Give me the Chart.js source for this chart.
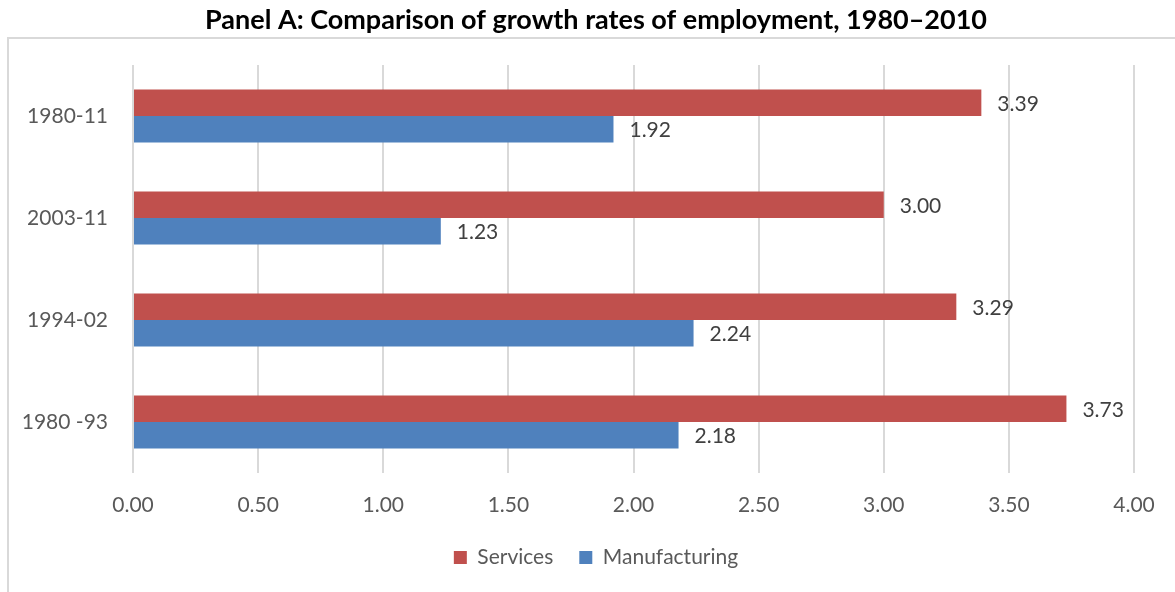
<!DOCTYPE html>
<html>
<head>
<meta charset="utf-8">
<script src="https://cdn.jsdelivr.net/npm/chart.js@4"></script>
<style>
  html, body { margin: 0; padding: 0; background: #fff; }
  #wrap { width: 1175px; height: 592px; position: relative; }
</style>
</head>
<body>
<div id="wrap"><canvas id="chartData" width="1175" height="592"></canvas></div>
<script>
let periods = ["1980-11", "2003-11", "1994-02", "1980 -93"];
let services = [3.39, 3.00, 3.29, 3.73];
let manufacturing = [1.92, 1.23, 2.24, 2.18];
let xTicks = [0, 0.5, 1, 1.5, 2, 2.5, 3, 3.5, 4];

const fontName = "Lato, 'Open Sans', sans-serif";

// light frame round the plot, open at the bottom and right like the original
const framePlugin = {
    id: "frame",
    afterLayout(chart) {
        // let the category labels spill into the left padding without being clipped
        chart.scales.y.left = 0;
    },
    beforeDraw(chart) {
        const c = chart.ctx;
        c.save();
        c.strokeStyle = "#d9d9d9";
        c.lineWidth = 2;
        c.beginPath();
        c.moveTo(8, 600);
        c.lineTo(8, 38);
        c.lineTo(1175, 38);
        c.stroke();
        c.restore();
    }
};

// value written just past the end of each bar
const valueLabels = {
    id: "valueLabels",
    afterDatasetsDraw(chart) {
        const c = chart.ctx;
        c.save();
        c.font = "21px " + fontName;
        c.fillStyle = "#404040";
        c.textAlign = "left";
        c.textBaseline = "middle";
        chart.data.datasets.forEach((ds, i) => {
            chart.getDatasetMeta(i).data.forEach((bar, j) => {
                c.fillText(ds.data[j].toFixed(2), bar.x + 16, bar.y + 1);
            });
        });
        c.restore();
    }
};

const ctx = document.getElementById("chartData").getContext("2d");
let myChart = new Chart(ctx, {
    type: "bar",
    data: {
        labels: periods,
        datasets: [{
            label: "Services",
            data: services,
            backgroundColor: "#c0504d",
            barPercentage: 1,
            categoryPercentage: 0.52
        }, {
            label: "Manufacturing",
            data: manufacturing,
            backgroundColor: "#4f81bd",
            barPercentage: 1,
            categoryPercentage: 0.52
        }]
    },
    options: {
        indexAxis: "y",
        responsive: false,
        animation: false,
        layout: { padding: { left: 58, right: 41, top: 0, bottom: 14 } },
        scales: {
            x: {
                min: 0,
                max: 4,
                afterBuildTicks: s => { s.ticks = xTicks.map(v => ({ value: v })); },
                afterFit: s => { s.height = 48; },
                grid: { color: "#d9d9d9", lineWidth: 2, drawTicks: false },
                border: { display: false },
                ticks: {
                    padding: 19.5,
                    color: "#595959",
                    font: { family: fontName, size: 21 },
                    callback: v => Number(v).toFixed(2)
                }
            },
            y: {
                afterFit: s => { s.width = 75; },
                grid: { display: false, drawTicks: false },
                border: { display: false },
                ticks: {
                    padding: 25,
                    color: "#595959",
                    font: { family: fontName, size: 21 }
                }
            }
        },
        plugins: {
            title: {
                display: true,
                text: "Panel A: Comparison of growth rates of employment, 1980\u20132010",
                color: "#000",
                font: { family: fontName, size: 27, weight: "bold", lineHeight: 1.2 },
                padding: { top: 3.8, bottom: 28.8 }
            },
            legend: {
                position: "bottom",
                labels: {
                    color: "#595959",
                    font: { family: fontName, size: 21 },
                    boxWidth: 13,
                    boxHeight: 13,
                    padding: 26
                }
            },
            tooltip: { enabled: false }
        }
    },
    plugins: [framePlugin, valueLabels]
});
</script>
</body>
</html>
